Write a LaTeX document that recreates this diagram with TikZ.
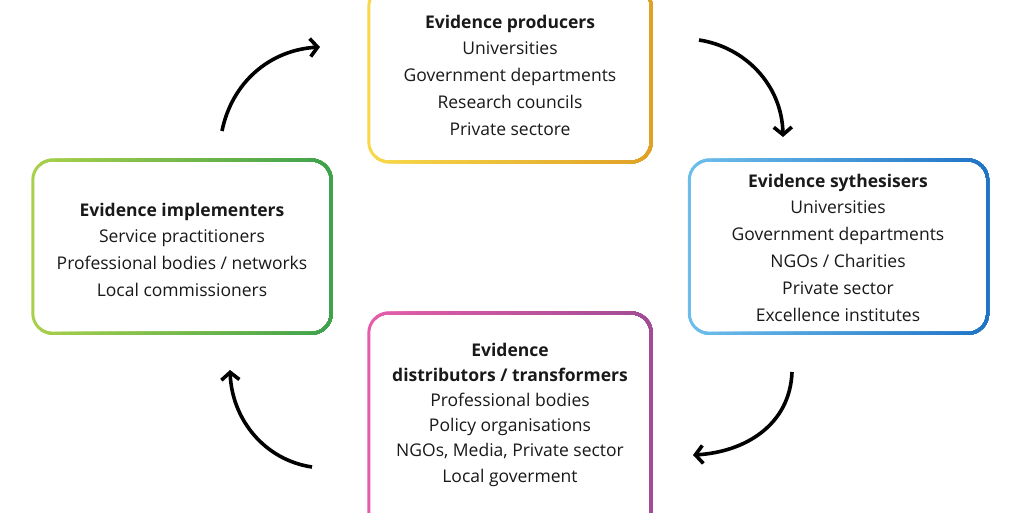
\documentclass[tikz,border=0pt]{standalone}
\usepackage{fontspec}
\setmainfont{Open Sans}
\usetikzlibrary{arrows.meta,calc}
\definecolor{yelA}{HTML}{F7D84A}
\definecolor{yelB}{HTML}{E0A126}
\definecolor{bluA}{HTML}{6DBDEB}
\definecolor{bluB}{HTML}{1F74C6}
\definecolor{grnA}{HTML}{A8D04A}
\definecolor{grnB}{HTML}{3FA24E}
\definecolor{pnkA}{HTML}{E45DAA}
\definecolor{pnkB}{HTML}{A24C95}
\tikzset{
  boxarea/.style={rectangle, minimum width=#1, inner sep=0pt},
  bline/.style={line width=3pt, rounded corners=20pt},
  txt/.style={align=center, inner sep=0pt, font=\fontsize{17.5}{26.8}\selectfont, text=black!90},
  arr/.style={line width=3.6pt, -{Straight Barb[length=7.5pt,width=18pt,line width=3.6pt]}}
}
% gradient border drawn in vertical strips: #1 node, #2 colA, #3 colB
\newcommand{\gborder}[3]{%
  \path (#1.south west) coordinate (gbSW) (#1.north east) coordinate (gbNE);
  \draw[bline, color=#2] (gbSW) rectangle (gbNE);
  \foreach \i in {1,...,39}{
    \pgfmathsetmacro{\mixp}{\i*100/39}
    \begin{scope}
      \clip let \p1=(gbSW), \p2=(gbNE) in
        ({\x1+\i*(\x2-\x1)/40}, {min(\y1,\y2)-10pt}) rectangle ({\x2+10pt}, {max(\y1,\y2)+10pt});
      \draw[bline, color=#3!\mixp!#2] (gbSW) rectangle (gbNE);
    \end{scope}
  }
}
\begin{document}
\begin{tikzpicture}[x=1pt,y=-1pt]
\useasboundingbox (0,0) rectangle (1024,512);
\fill[white] (0,0) rectangle (1024,512);

% boxes (y grows downward)
\node[boxarea=282pt, minimum height=175pt] (prod) at (510,-13.5) [anchor=north] {};
\node[boxarea=298pt, minimum height=173pt] (synt) at (838.5,160) [anchor=north] {};
\node[boxarea=298pt, minimum height=173pt] (impl) at (182,160) [anchor=north] {};
\node[boxarea=282pt, minimum height=220pt] (dist) at (510,313) [anchor=north] {};

\gborder{prod}{yelA}{yelB}
\gborder{synt}{bluA}{bluB}
\gborder{impl}{grnA}{grnB}
\gborder{dist}{pnkA}{pnkB}

% texts
\node[txt, anchor=north] (prodT) at (510,14.5) {\textbf{Evidence producers}\\Universities\\Government departments\\Research councils\\Private sectore};
\node[txt, anchor=north] (syntT) at (838,173.5) {\textbf{Evidence sythesisers}\\Universities\\Government departments\\NGOs / Charities\\Private sector\\Excellence institutes};
\node[txt, anchor=north] (implT) at (182,202.5) {\textbf{Evidence implementers}\\Service practitioners\\Professional bodies / networks\\Local commissioners};
\node[txt, anchor=north, font=\fontsize{17.5}{25.2}\selectfont] (distT) at (510,342.5) {\textbf{Evidence}\\\textbf{distributors / transformers}\\Professional bodies\\Policy organisations\\NGOs, Media, Private sector\\Local goverment};

% arrows
\coordinate (a1s) at (222,131); \coordinate (a1e) at (320,47);
\coordinate (a2s) at (699,40);  \coordinate (a2e) at (783,137);
\coordinate (a3s) at (792,372); \coordinate (a3e) at (693,455);
\coordinate (a4s) at (312,467); \coordinate (a4e) at (230,370);
\draw[arr] (a1s) .. controls (232,82) and (270,50) .. (a1e);
\draw[arr] (a2s) .. controls (745,47) and (782,85) .. (a2e);
\draw[arr] (a3s) .. controls (790,425) and (745,452) .. (a3e);
\draw[arr] (a4s) .. controls (265,460) and (232,420) .. (a4e);
\end{tikzpicture}
\end{document}
